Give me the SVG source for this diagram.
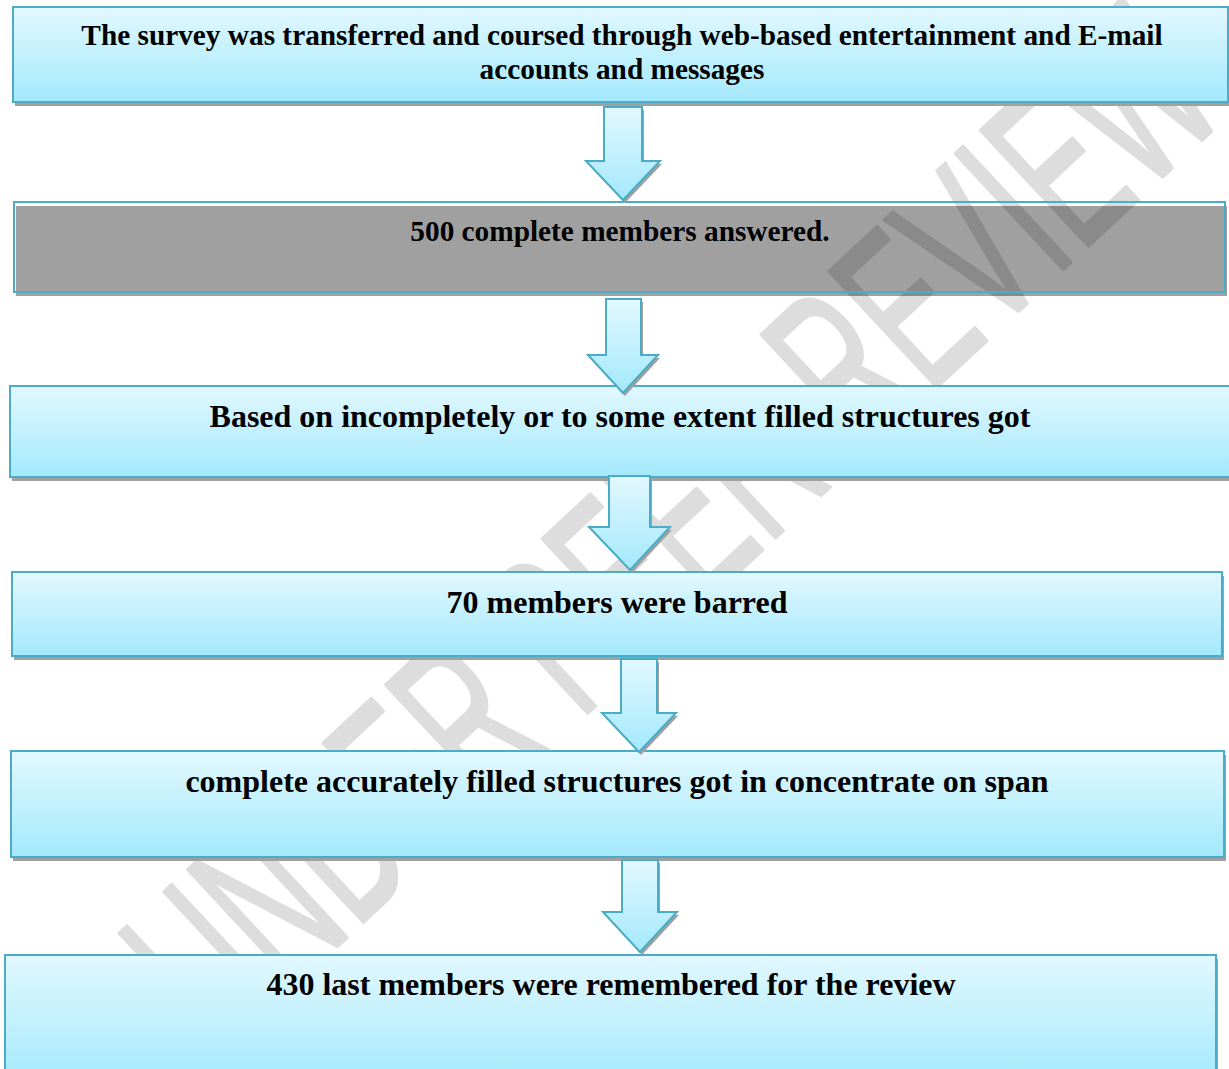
<svg xmlns="http://www.w3.org/2000/svg" width="1229" height="1069" viewBox="0 0 1229 1069">
<defs>
<linearGradient id="gb" x1="0" y1="0" x2="0" y2="1">
<stop offset="0" stop-color="#e2f8ff"/>
<stop offset="1" stop-color="#a3e9fc"/>
</linearGradient>
<style>
.box{fill:url(#gb);stroke:#4aacc6;stroke-width:2}
.nofill{fill:none;stroke:#4aacc6;stroke-width:2}
.sh{fill:#a0a0a0}
.arr{fill:url(#gb);stroke:#4aacc6;stroke-width:2;stroke-linejoin:miter}
.ash{fill:#a0a0a0}
.t{font-family:"Liberation Serif","Times New Roman",serif;font-weight:bold;font-size:29.3px;fill:#000;text-anchor:middle}
.t2{font-size:32px}
.wm{font-family:"Liberation Sans",Arial,sans-serif;font-size:230px;fill:#000;stroke:#000;stroke-width:3.5px;stroke-linejoin:round;stroke-linecap:round}
</style>
</defs>
<rect width="1229" height="1069" fill="#ffffff"/>

<!-- gray shadow of node 2 (box has no fill) -->
<rect class="sh" x="16" y="206" width="1211" height="90"/>

<!-- watermark -->
<g id="watermark" opacity="0.13">
<text class="wm" transform="translate(219.6,1056.2) rotate(-43) scale(0.558,1)">UNDER PEER REVIEW</text>
</g>

<g id="node1">
<rect class="sh" x="15" y="11" width="1215" height="95"/>
<rect class="box" x="13" y="7" width="1215" height="95"/>
<text class="t" x="622" y="45">The survey was transferred and coursed through web-based entertainment and E-mail</text>
<text class="t" x="622" y="79">accounts and messages</text>
</g>

<g id="node2">
<rect class="nofill" x="14" y="202" width="1211" height="90"/>
<text class="t" x="620" y="241">500 complete members answered.</text>
</g>

<g id="node3">
<rect class="sh" x="12" y="390" width="1220" height="91"/>
<rect class="box" x="10" y="386" width="1220" height="91"/>
<text class="t t2" x="620" y="427">Based on incompletely or to some extent filled structures got</text>
</g>

<g id="node4">
<rect class="sh" x="14" y="576" width="1210" height="84"/>
<rect class="box" x="12" y="572" width="1210" height="84"/>
<text class="t t2" x="617" y="613">70 members were barred</text>
</g>

<g id="node5">
<rect class="sh" x="13" y="755" width="1213" height="106"/>
<rect class="box" x="11" y="751" width="1213" height="106"/>
<text class="t t2" x="617" y="792">complete accurately filled structures got in concentrate on span</text>
</g>

<g id="node6">
<rect class="sh" x="7" y="959" width="1211" height="130"/>
<rect class="box" x="5" y="955" width="1211" height="130"/>
<text class="t t2" x="611" y="995">430 last members were remembered for the review</text>
</g>

<g id="connectors">
<g transform="translate(2,3)">
<path class="ash" d="M604,107 H642 V161 H660 L623,200 L586,161 H604 Z"/>
<path class="ash" d="M606,299 H641 V355 H658 L623,393 L588,355 H606 Z"/>
<path class="ash" d="M609,476 H650 V527 H670 L630,570 L589,527 H609 Z"/>
<path class="ash" d="M621,659 H657 V713 H676 L639,752 L602,713 H621 Z"/>
<path class="ash" d="M622,860 H658 V912 H677 L640,952 L603,912 H622 Z"/>
</g>
<path class="arr" d="M604,107 H642 V161 H660 L623,200 L586,161 H604 Z"/>
<path class="arr" d="M606,299 H641 V355 H658 L623,393 L588,355 H606 Z"/>
<path class="arr" d="M609,476 H650 V527 H670 L630,570 L589,527 H609 Z"/>
<path class="arr" d="M621,659 H657 V713 H676 L639,752 L602,713 H621 Z"/>
<path class="arr" d="M622,860 H658 V912 H677 L640,952 L603,912 H622 Z"/>
</g>
</svg>
